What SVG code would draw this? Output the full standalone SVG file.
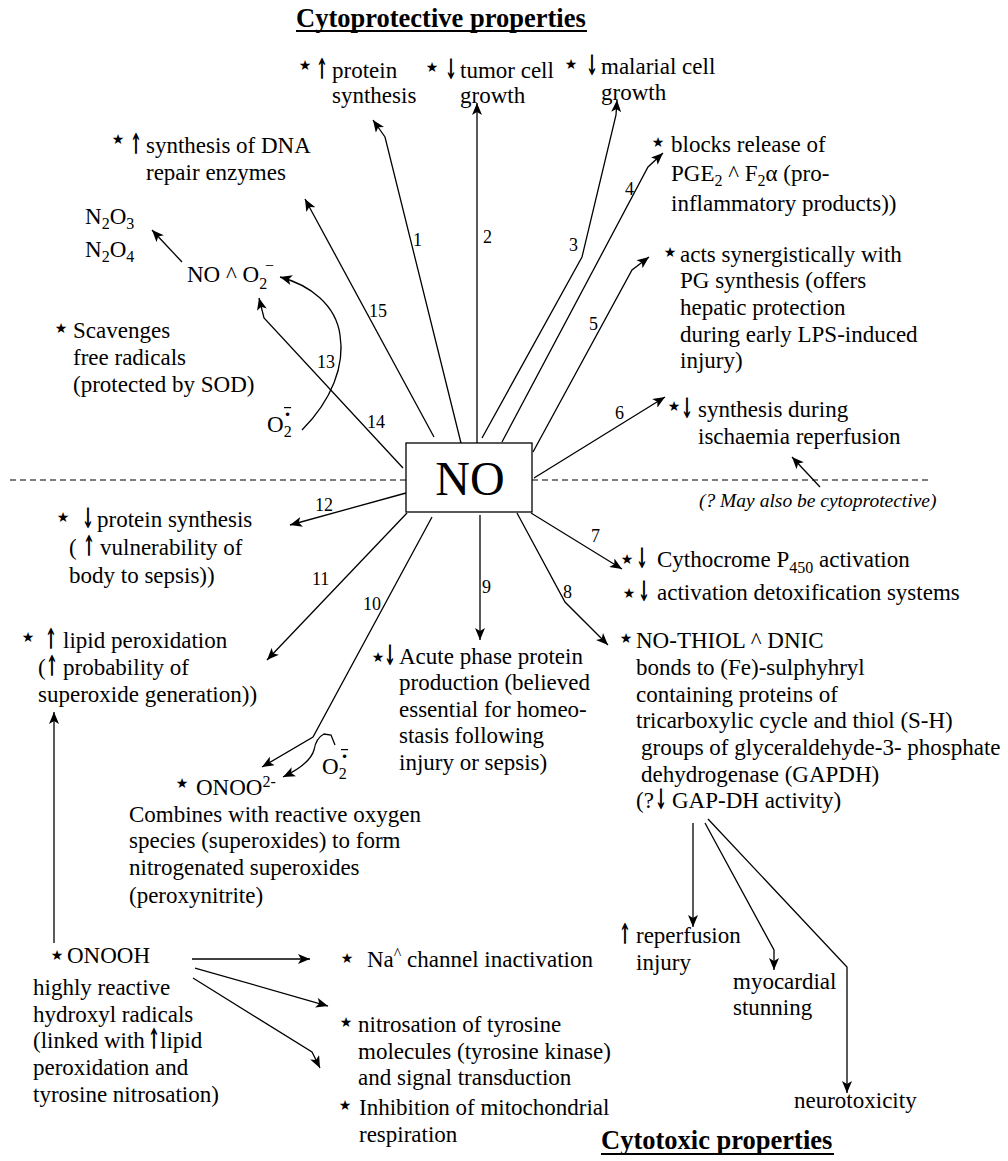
<svg xmlns="http://www.w3.org/2000/svg" width="1008" height="1161" viewBox="0 0 1008 1161">
<style>
text{font-family:"Liberation Serif","Times New Roman","DejaVu Serif",serif;fill:#000}
.t{font-size:23px}
.s{font-size:16px}
.n{font-size:18px}
.h{font-size:26.5px;font-weight:bold}
.i{font-size:19.5px;font-style:italic}
.star{font-family:"DejaVu Sans",sans-serif;font-size:14px;text-anchor:middle}
.ar{font-family:"DejaVu Serif","DejaVu Sans",serif;font-size:26px;text-anchor:middle;stroke:#000;stroke-width:1.6}
.rad{font-family:"DejaVu Sans",sans-serif;font-size:12px;text-decoration:overline}
.c{fill:none;stroke:#000;stroke-width:1.3}
.ul{stroke:#000;stroke-width:2}
</style>
<defs>
<marker id="ah" viewBox="0 0 12 10" refX="12" refY="5" markerWidth="13" markerHeight="10" markerUnits="userSpaceOnUse" orient="auto">
<path d="M0,0 L12,5 L0,10 L3,5 z" fill="#000"/>
</marker>
</defs>
<rect width="1008" height="1161" fill="#fff"/>

<g id="titles">
<text class="h" x="296" y="27">Cytoprotective properties</text>
<line class="ul" x1="296" y1="31" x2="587" y2="31"/>
<text class="h" x="601" y="1149">Cytotoxic properties</text>
<line class="ul" x1="601" y1="1154" x2="834" y2="1154"/>
</g>

<g id="divider">
<line x1="10" y1="480" x2="406" y2="480" stroke="#000" stroke-width="1.2" stroke-dasharray="6,4"/>
<line x1="532" y1="480" x2="929" y2="480" stroke="#000" stroke-width="1.2" stroke-dasharray="6,4"/>
</g>

<g id="connectors">
<polyline class="c" points="461,443 385,137 373,120" marker-end="url(#ah)"/>
<polyline class="c" points="477,443 477,103" marker-end="url(#ah)"/>
<polyline class="c" points="482,438 582,257 616,115 617,100" marker-end="url(#ah)"/>
<polyline class="c" points="502,442 648,167 663,153" marker-end="url(#ah)"/>
<polyline class="c" points="533,452 632,270 649,257" marker-end="url(#ah)"/>
<polyline class="c" points="534,478 665,397" marker-end="url(#ah)"/>
<polyline class="c" points="531,513 622,569" marker-end="url(#ah)"/>
<polyline class="c" points="517,513 565,602 608,645" marker-end="url(#ah)"/>
<polyline class="c" points="480,515 480,640" marker-end="url(#ah)"/>
<polyline class="c" points="432,517 313,737 262,767" marker-end="url(#ah)"/>
<polyline class="c" points="407,513 267,660" marker-end="url(#ah)"/>
<polyline class="c" points="406,493 290,525" marker-end="url(#ah)"/>
<path class="c" d="M302,430 C332,400 345,365 340,335 C336,305 310,285 280,277" marker-end="url(#ah)"/>
<polyline class="c" points="403,468 264,318 259,298" marker-end="url(#ah)"/>
<polyline class="c" points="434,437 305,199" marker-end="url(#ah)"/>
<polyline class="c" points="182,262 152,230" marker-end="url(#ah)"/>
<path class="c" d="M335,745 L331,735 L324,734 Q316,738 314,750 Q310,764 283,777" marker-end="url(#ah)"/>
<polyline class="c" points="820,487 792,457" marker-end="url(#ah)"/>
<polyline class="c" points="693,823 693,927" marker-end="url(#ah)"/>
<polyline class="c" points="705,823 774,950 774,970" marker-end="url(#ah)"/>
<polyline class="c" points="708,819 847,967 847,1093" marker-end="url(#ah)"/>
<polyline class="c" points="54,943 54,712" marker-end="url(#ah)"/>
<polyline class="c" points="192,959 310,959" marker-end="url(#ah)"/>
<polyline class="c" points="195,968 328,1006" marker-end="url(#ah)"/>
<polyline class="c" points="193,978 312,1052 320,1068" marker-end="url(#ah)"/>
</g>

<g id="labels">
<text class="n" x="413" y="246">1</text>
<text class="n" x="483" y="243">2</text>
<text class="n" x="569" y="251">3</text>
<text class="n" x="625" y="195">4</text>
<text class="n" x="589" y="330">5</text>
<text class="n" x="615" y="419">6</text>
<text class="n" x="591" y="542">7</text>
<text class="n" x="563" y="598">8</text>
<text class="n" x="482" y="593">9</text>
<text class="n" x="363" y="610">10</text>
<text class="n" x="312" y="585">11</text>
<text class="n" x="315" y="511">12</text>
<text class="n" x="317" y="368">13</text>
<text class="n" x="367" y="428">14</text>
<text class="n" x="369" y="317">15</text>
</g>

<g id="no">
<rect x="406" y="443" width="126" height="69" fill="#fff" stroke="#000" stroke-width="1.3"/>
<text x="470" y="495" font-size="48" text-anchor="middle">NO</text>
</g>

<g id="protein-up">
<text class="star" x="305" y="70">★</text>
<text class="ar" transform="translate(322,78) scale(0.5,1)">↑</text>
<text class="t" x="332" y="78">protein</text>
<text class="t" x="332" y="103">synthesis</text>
</g>

<g id="tumor">
<text class="star" x="432" y="72">★</text>
<text class="ar" transform="translate(451,78) scale(0.5,1)">↓</text>
<text class="t" x="460" y="78">tumor cell</text>
<text class="t" x="460" y="103">growth</text>
</g>

<g id="malarial">
<text class="star" x="571" y="69">★</text>
<text class="ar" transform="translate(592,74) scale(0.5,1)">↓</text>
<text class="t" x="601" y="74">malarial cell</text>
<text class="t" x="601" y="100">growth</text>
</g>

<g id="pge">
<text class="star" x="658" y="147">★</text>
<text class="t" x="671" y="152">blocks release of</text>
<text class="t" x="671" y="181">PGE<tspan class="s" dy="5">2</tspan><tspan dy="-5"> ^ F</tspan><tspan class="s" dy="5">2</tspan><tspan dy="-5">α (pro-</tspan></text>
<text class="t" x="671" y="211">inflammatory products))</text>
</g>

<g id="pg-synthesis">
<text class="star" x="670" y="257">★</text>
<text class="t" x="680" y="262">acts synergistically with</text>
<text class="t" x="680" y="288">PG synthesis (offers</text>
<text class="t" x="680" y="315">hepatic protection</text>
<text class="t" x="680" y="342">during early LPS-induced</text>
<text class="t" x="680" y="368">injury)</text>
</g>

<g id="ischaemia">
<text class="star" x="674" y="411">★</text>
<text class="ar" transform="translate(687,417) scale(0.5,1)">↓</text>
<text class="t" x="698" y="417">synthesis during</text>
<text class="t" x="698" y="444">ischaemia reperfusion</text>
</g>

<g id="maybe">
<text class="i" x="699" y="507">(? May also be cytoprotective)</text>
</g>

<g id="dna">
<text class="star" x="118" y="144">★</text>
<text class="ar" transform="translate(136,153) scale(0.5,1)">↑</text>
<text class="t" x="146" y="153">synthesis of DNA</text>
<text class="t" x="146" y="180">repair enzymes</text>
</g>

<g id="n2o">
<text class="t" x="85" y="224">N<tspan class="s" dy="5">2</tspan><tspan dy="-5">O</tspan><tspan class="s" dy="5">3</tspan></text>
<text class="t" x="85" y="257">N<tspan class="s" dy="5">2</tspan><tspan dy="-5">O</tspan><tspan class="s" dy="5">4</tspan></text>
</g>

<g id="no-o2">
<text class="t" x="187" y="282">NO ^ O<tspan class="s" dy="7">2</tspan><tspan class="s" x="265" y="271">−</tspan></text>
</g>

<g id="scavenges">
<text class="star" x="61" y="333">★</text>
<text class="t" x="73" y="338">Scavenges</text>
<text class="t" x="73" y="365">free radicals</text>
<text class="t" x="73" y="392">(protected by SOD)</text>
</g>

<g id="o2-radical">
<text class="t" x="267" y="432">O<tspan class="s" dy="5">2</tspan><tspan class="rad" x="284" y="419">•</tspan></text>
</g>

<g id="protein-down">
<text class="star" x="63" y="522">★</text>
<text class="ar" transform="translate(88,527) scale(0.5,1)">↓</text>
<text class="t" x="97" y="527">protein synthesis</text>
<text class="t" x="69" y="555">(</text>
<text class="ar" transform="translate(89,555) scale(0.5,1)">↑</text>
<text class="t" x="100" y="555">vulnerability of</text>
<text class="t" x="69" y="583">body to sepsis))</text>
</g>

<g id="cytochrome">
<text class="star" x="627" y="564">★</text>
<text class="ar" transform="translate(642,567) scale(0.5,1)">↓</text>
<text class="t" x="657" y="567">Cythocrome P<tspan class="s" dy="6">450</tspan><tspan dy="-6"> activation</tspan></text>
<text class="star" x="629" y="598">★</text>
<text class="ar" transform="translate(644,600) scale(0.5,1)">↓</text>
<text class="t" x="657" y="600">activation detoxification systems</text>
</g>

<g id="lipid">
<text class="star" x="28" y="642">★</text>
<text class="ar" transform="translate(51,648) scale(0.5,1)">↑</text>
<text class="t" x="63" y="648">lipid peroxidation</text>
<text class="t" x="38" y="675">(</text>
<text class="ar" transform="translate(52,675) scale(0.5,1)">↑</text>
<text class="t" x="63" y="675">probability of</text>
<text class="t" x="38" y="702">superoxide generation))</text>
</g>

<g id="acute">
<text class="star" x="378" y="662">★</text>
<text class="ar" transform="translate(390,664) scale(0.5,1)">↓</text>
<text class="t" x="399" y="664">Acute phase protein</text>
<text class="t" x="399" y="690">production (believed</text>
<text class="t" x="399" y="717">essential for homeo-</text>
<text class="t" x="399" y="743">stasis following</text>
<text class="t" x="399" y="770">injury or sepsis)</text>
</g>

<g id="nothiol">
<text class="star" x="626" y="643">★</text>
<text class="t" x="636" y="648">NO-THIOL ^ DNIC</text>
<text class="t" x="636" y="675">bonds to (Fe)-sulphyhryl</text>
<text class="t" x="636" y="702">containing proteins of</text>
<text class="t" x="636" y="728">tricarboxylic cycle and thiol (S-H)</text>
<text class="t" x="641" y="755">groups of glyceraldehyde-3- phosphate</text>
<text class="t" x="641" y="782">dehydrogenase (GAPDH)</text>
<text class="t" x="636" y="808">(?</text>
<text class="ar" transform="translate(661,808) scale(0.5,1)">↓</text>
<text class="t" x="672" y="808">GAP-DH activity)</text>
</g>

<g id="onoo">
<text class="star" x="182" y="788">★</text>
<text class="t" x="196" y="795">ONOO<tspan class="s" dy="-8">2-</tspan></text>
<text class="t" x="129" y="822">Combines with reactive oxygen</text>
<text class="t" x="129" y="848">species (superoxides) to form</text>
<text class="t" x="129" y="875">nitrogenated superoxides</text>
<text class="t" x="129" y="903">(peroxynitrite)</text>
</g>

<g id="o2-radical-2">
<text class="t" x="322" y="774">O<tspan class="s" dy="5">2</tspan><tspan class="rad" x="341" y="761">•</tspan></text>
</g>

<g id="reperfusion">
<text class="ar" transform="translate(625,943) scale(0.5,1)">↑</text>
<text class="t" x="636" y="943">reperfusion</text>
<text class="t" x="636" y="970">injury</text>
</g>

<g id="myocardial">
<text class="t" x="733" y="989">myocardial</text>
<text class="t" x="733" y="1015">stunning</text>
</g>

<g id="neurotoxicity">
<text class="t" x="794" y="1108">neurotoxicity</text>
</g>

<g id="onooh">
<text class="star" x="57" y="960">★</text>
<text class="t" x="67" y="963">ONOOH</text>
<text class="t" x="33" y="995">highly reactive</text>
<text class="t" x="33" y="1022">hydroxyl radicals</text>
<text class="t" x="33" y="1048">(linked with</text>
<text class="ar" transform="translate(154,1048) scale(0.5,1)">↑</text>
<text class="t" x="160" y="1048">lipid</text>
<text class="t" x="33" y="1075">peroxidation and</text>
<text class="t" x="33" y="1102">tyrosine nitrosation)</text>
</g>

<g id="na">
<text class="star" x="347" y="963">★</text>
<text class="t" x="367" y="967">Na<tspan class="s" dy="-8">^</tspan><tspan dy="8"> channel inactivation</tspan></text>
</g>

<g id="nitrosation">
<text class="star" x="346" y="1027">★</text>
<text class="t" x="358" y="1032">nitrosation of tyrosine</text>
<text class="t" x="358" y="1059">molecules (tyrosine kinase)</text>
<text class="t" x="358" y="1085">and signal transduction</text>
</g>

<g id="mito">
<text class="star" x="345" y="1110">★</text>
<text class="t" x="359" y="1115">Inhibition of mitochondrial</text>
<text class="t" x="359" y="1142">respiration</text>
</g>
</svg>
